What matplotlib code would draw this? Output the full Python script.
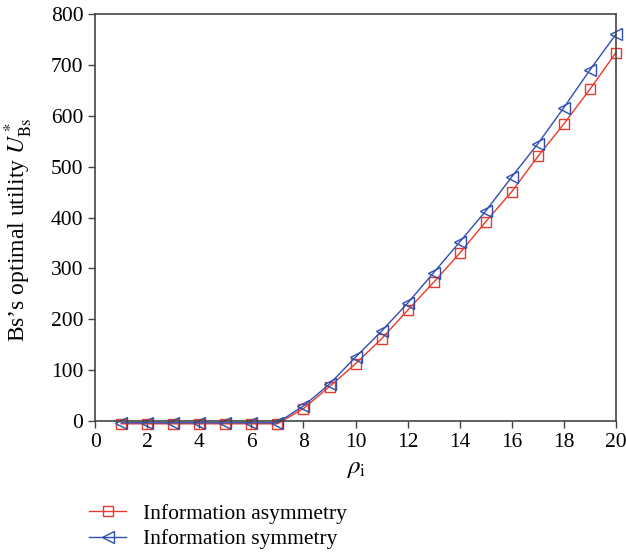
import matplotlib
matplotlib.use('Agg')
import matplotlib.pyplot as plt

rho = [1, 2, 3, 4, 5, 6, 7, 8, 9, 10, 11, 12, 13, 14, 15, 16, 17, 18, 19, 20]
asym = [-5, -5, -5, -5, -5, -5, -5, 25, 68, 113, 162, 218, 273, 330, 392, 451, 520, 584, 652, 724]
sym = [-3, -3, -3, -3, -3, -3, -3, 30, 73, 126, 177, 232, 292, 352, 413, 480, 545, 616, 690, 760]

plt.rcParams['font.family'] = ['Liberation Serif', 'DejaVu Serif']
plt.rcParams['mathtext.fontset'] = 'stix'

fig = plt.figure(figsize=(6.26, 5.55), dpi=100)
ax = fig.add_axes([0.152, 0.241, 0.832, 0.734])

l1, = ax.plot(rho, asym, color='#e8392b', lw=1, marker='s', ms=7, mfc='none',
              mew=1, clip_on=False, label='Information asymmetry')
l2, = ax.plot(rho, sym, color='#2f4fae', lw=1, marker='<', ms=8, mfc='none',
              mew=1, clip_on=False, label='Information symmetry')

ax.set_xlim(0, 20)
ax.set_ylim(0, 800)
ax.set_xticks(range(0, 21, 2))
ax.set_yticks(range(0, 801, 100))
ax.tick_params(direction='out', length=5, width=1, labelsize=15.5, color='#444444')
for s in ax.spines.values():
    s.set_linewidth(1.2)
    s.set_color('#444444')

ax.set_xlabel(r'$\rho_{\mathrm{i}}$', fontsize=18, labelpad=4)
ax.set_ylabel(r'Bs’s optimal utility $U^*_{\mathrm{Bs}}$', fontsize=17, labelpad=6)
ax.yaxis.set_label_coords(-0.115, 0.47)

fig.legend(handles=[l1, l2], loc='upper left', bbox_to_anchor=(0.112, 0.127),
           frameon=False, fontsize=15.5, handlelength=1.7, handletextpad=0.8,
           labelspacing=0.25)

fig.savefig('out.png', dpi=100)
